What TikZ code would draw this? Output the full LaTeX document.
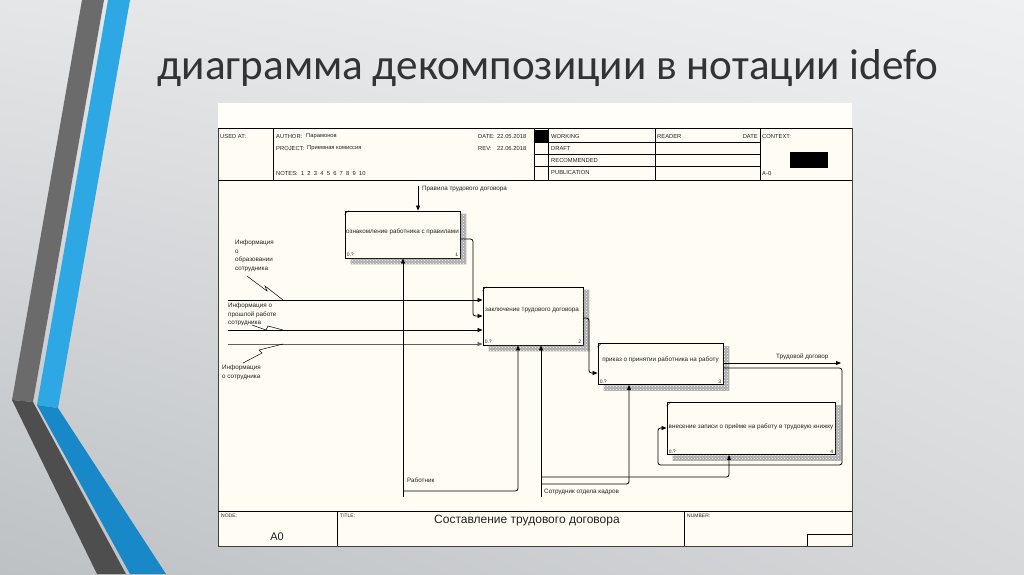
\documentclass[tikz,border=0pt]{standalone}
\usepackage{fontspec}
\setmainfont{Liberation Sans}
\newfontfamily\titlefont{Carlito}
\usetikzlibrary{arrows.meta,patterns,calc,shadings}
\definecolor{cream}{HTML}{FFFDF3}
\definecolor{creamtop}{HTML}{FFFEF9}
\definecolor{bandgray}{HTML}{6B6B6B}
\definecolor{bandgrayd}{HTML}{4E4E4E}
\definecolor{bandblue}{HTML}{2EA8E5}
\definecolor{bandblued}{HTML}{1888C9}
\definecolor{ink}{HTML}{202020}
\definecolor{bgUL}{HTML}{E4E6E8}
\definecolor{bgUR}{HTML}{EEF0F1}
\definecolor{bgLL}{HTML}{BEC1C4}
\definecolor{bgLR}{HTML}{D6D8DA}
\newcommand\idefshadow[1]{%
  \path[fill=gray!65, postaction={pattern=crosshatch dots, pattern color=white}]
    ($(#1.north east)+(0.4,3)$) -- ($(#1.north east)+(6,3)$) -- ($(#1.south east)+(6,6)$)
    -- ($(#1.south west)+(6,6)$) -- ($(#1.south west)+(6,0.4)$) -- ($(#1.south east)+(0.4,0.4)$) -- cycle;
  \draw[line width=0.5pt] ($(#1.north west)+(0,4)$) -- ($(#1.north west)+(4,0)$);
}
\begin{document}
\begin{tikzpicture}[x=1pt,y=-1pt,
  ibox/.style={draw=black, line width=0.9pt, fill=cream, inner sep=0pt},
  boxtext/.style={font=\fontsize{6.3}{7}\selectfont, text=ink, inner sep=0pt},
  lbl/.style={font=\fontsize{6.3}{8.5}\selectfont, text=ink, inner sep=0pt, align=left},
  hdr/.style={font=\fontsize{5.8}{7}\selectfont, inner sep=0pt, anchor=west, text=ink},
  tiny/.style={font=\fontsize{5}{6}\selectfont, inner sep=0pt, text=ink},
  arr/.style={line width=0.8pt, -{Triangle[length=5pt,width=4pt]}, rounded corners=2.5pt},
  squig/.style={line width=0.5pt},
  hline/.style={line width=0.9pt, draw=black}]

% slide background
\useasboundingbox (0,0) rectangle (1024,574);
\shade[upper left=bgUL, upper right=bgUR, lower left=bgLL, lower right=bgLR]
  (0,0) rectangle (1024,574);

% decorative bands
\fill[bandgray] (82,0) -- (104,0) -- (33,402) -- (12,400) -- cycle;
\fill[bandgrayd] (12,400) -- (33,402) -- (126,574) -- (97,574) -- cycle;
\fill[bandblue] (108,0) -- (130,0) -- (58,408) -- (37,405) -- cycle;
\fill[bandblued] (37,405) -- (58,408) -- (166,574) -- (130,574) -- cycle;

% title
\node[font=\titlefont\fontsize{43.2}{48}\selectfont, text=black!80, inner sep=0pt] (title) at (548,68)
  {диаграмма декомпозиции в нотации idefo};

% panel
\fill[creamtop] (218,103) rectangle (852,128);
\fill[cream] (218,128) rectangle (852,546);
\draw[black!75, line width=0.8pt] (218,128) rectangle (852,546);

% header
\draw[hline] (218,128) -- (852,128);
\draw[hline] (218,180) -- (852,180);
\draw[hline] (273,128) -- (273,180);
\draw[hline] (534,128) -- (534,180);
\draw[hline] (548,128) -- (548,180);
\draw[hline] (655,128) -- (655,180);
\draw[hline] (760,128) -- (760,180);
\draw[hline] (534,142) -- (760,142);
\draw[hline] (534,154) -- (760,154);
\draw[hline] (534,166) -- (760,166);
\fill[black] (534,130) rectangle (548,142);
\fill[black] (790,152) rectangle (828,168);
\node[hdr] (h1) at (220,136) {USED AT:};
\node[hdr] (h2) at (276,136) {AUTHOR:};
\node[hdr] (h2v) at (306,136) {Парамонов};
\node[hdr] (h3) at (276,148) {PROJECT:};
\node[hdr] (h3v) at (307,148) {Приемная комиссия};
\node[hdr] (h4) at (276,173) {NOTES:\ \ 1\ \ 2\ \ 3\ \ 4\ \ 5\ \ 6\ \ 7\ \ 8\ \ 9\ \ 10};
\node[hdr] (h5) at (478,136) {DATE:};
\node[hdr] (h5v) at (497,136) {22.05.2018};
\node[hdr] (h6) at (478,148) {REV:};
\node[hdr] (h6v) at (497,148) {22.06.2018};
\node[hdr] (h7) at (551,136) {WORKING};
\node[hdr] (h8) at (551,148) {DRAFT};
\node[hdr] (h9) at (551,160) {RECOMMENDED};
\node[hdr] (h10) at (551,172) {PUBLICATION};
\node[hdr] (h11) at (657,136) {READER};
\node[hdr, anchor=east] (h12) at (758,136) {DATE};
\node[hdr] (h13) at (762,136) {CONTEXT:};
\node[hdr] (h14) at (762,173) {A-0};

% footer
\draw[hline] (218,511) -- (852,511);
\draw[hline] (337,511) -- (337,546);
\draw[hline] (684,511) -- (684,546);
\draw[hline] (807,546) -- (807,534) -- (852,534);
\node[tiny, anchor=west] (f1) at (221,516) {NODE:};
\node[tiny, anchor=west] (f2) at (340,516) {TITLE:};
\node[tiny, anchor=west] (f3) at (687,516) {NUMBER:};
\node[font=\fontsize{11}{12}\selectfont, text=ink, inner sep=0pt] (f4) at (277,537) {A0};
\node[font=\fontsize{12}{13}\selectfont, text=ink, inner sep=0pt] (f5) at (527,521) {Составление трудового договора};

% boxes
\node[ibox, minimum width=115pt, minimum height=47pt] (b1) at (402.5,234.5) {};
\node[ibox, minimum width=100pt, minimum height=58pt] (b2) at (533,316) {};
\node[ibox, minimum width=125pt, minimum height=41pt] (b3) at (660.5,364) {};
\node[ibox, minimum width=168pt, minimum height=52pt] (b4) at (751,428.5) {};
\idefshadow{b1}
\idefshadow{b2}
\idefshadow{b3}
\idefshadow{b4}
\node[boxtext] (t1) at ([yshift=2.5pt]b1.center) {ознакомление работника с правилами};
\node[boxtext] (t2) at ([yshift=6pt,xshift=-1pt]b2.center) {заключение трудового договора};
\node[boxtext] (t3) at ([yshift=4pt]b3.center) {приказ о принятии работника на работу};
\node[boxtext] (t4) at ([yshift=1.5pt]b4.center) {внесение записи о приёме на работу в трудовую книжку};
\foreach \b/\n in {b1/1,b2/2,b3/3,b4/4}{
  \node[tiny, anchor=south west] (\b z) at ([xshift=2pt,yshift=1.5pt]\b.south west) {0.?};
  \node[tiny, anchor=south east] (\b n) at ([xshift=-2pt,yshift=1.5pt]\b.south east) {\n};
}

% control
\coordinate (cT) at (418,186);
\draw[arr] (cT) -- (cT |- b1.north);
\node[lbl, anchor=west] (lT) at (422,189) {Правила трудового договора};

% inputs of box 2
\coordinate (in1) at (228,300);
\coordinate (in2) at (228,330);
\coordinate (in3) at (228,344);
\draw[arr] (in1) -- (in1 -| b2.west);
\draw[arr] (in2) -- (in2 -| b2.west);
\draw[arr, draw=gray!75!black] (in3) -- (in3 -| b2.west);

% box 1 output -> box 2
\coordinate (o1a) at (473,239);
\coordinate (o1b) at (473,316);
\draw[arr] (b1.east |- o1a) -- (o1a) -- (o1b) -- (o1b -| b2.west);

% box 2 output -> box 3
\coordinate (o2a) at (589,318);
\coordinate (o2b) at (589,373);
\draw[arr] (b2.east |- o2a) -- (o2a) -- (o2b) -- (o2b -| b3.west);

% box 3 outputs
\coordinate (o3) at (841,363);
\draw[arr] (b3.east |- o3) -- (o3);
\node[lbl, anchor=west] (lO) at (776,357) {Трудовой договор};
\coordinate (o3a) at (842,368);
\coordinate (o3b) at (842,465);
\coordinate (o3c) at (658,465);
\coordinate (o3d) at (658,428);
\draw[arr] (b3.east |- o3a) -- (o3a) -- (o3b) -- (o3c) -- (o3d) -- (o3d -| b4.west);

% mechanisms
\coordinate (m1) at (403,497);
\coordinate (m1a) at (403,491);
\coordinate (m1b) at (518,491);
\draw[arr] (m1) -- (m1 |- b1.south);
\draw[arr] (m1a) -- (m1b) -- (m1b |- b2.south);
\node[lbl, anchor=west] (lM1) at (407,480) {Работник};

\coordinate (m2) at (541,497);
\coordinate (m2a) at (541,484);
\coordinate (m2b) at (629,484);
\coordinate (m3a) at (541,477);
\coordinate (m3b) at (729,477);
\draw[arr] (m2) -- (m2 |- b2.south);
\draw[arr] (m2a) -- (m2b) -- (m2b |- b3.south);
\draw[arr] (m3a) -- (m3b) -- (m3b |- b4.south);
\node[lbl, anchor=west] (lM2) at (544,492) {Сотрудник отдела кадров};

% input labels with squiggles
\node[lbl, anchor=north west] (L1) at (235,240) {Информация\\о\\образовании\\сотрудника};
\node[lbl, anchor=north west] (L2) at (228,303) {Информация о\\прошлой работе\\сотрудника};
\node[lbl, anchor=north west] (L3) at (222,365) {Информация\\о сотрудника};
\coordinate (s1a) at (247,276); \coordinate (s1b) at (267,291); \coordinate (s1c) at (265,286); \coordinate (s1d) at (283,300);
\draw[squig] (s1a) -- (s1b) -- (s1c) -- (s1d);
\coordinate (s2a) at (252,325); \coordinate (s2b) at (266,330); \coordinate (s2c) at (268,326); \coordinate (s2d) at (283,330);
\draw[squig] (s2a) -- (s2b) -- (s2c) -- (s2d);
\coordinate (s3a) at (243,363); \coordinate (s3b) at (262,353); \coordinate (s3c) at (259,350); \coordinate (s3d) at (283,344);
\draw[squig] (s3a) -- (s3b) -- (s3c) -- (s3d);
\end{tikzpicture}
\end{document}
